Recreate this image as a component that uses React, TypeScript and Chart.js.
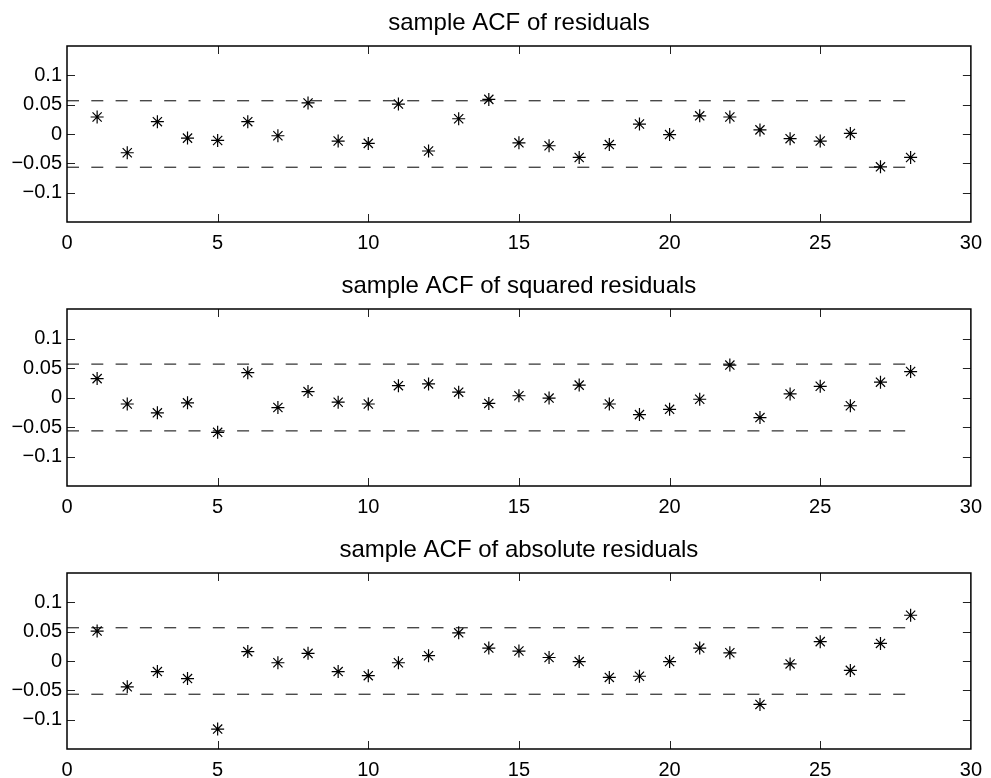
import React, { useEffect, useRef } from "react";
import { Chart, registerables } from "chart.js";

Chart.register(...registerables);

// ---------- data ----------
const lags = [1, 2, 3, 4, 5, 6, 7, 8, 9, 10, 11, 12, 13, 14, 15, 16, 17, 18, 19, 20, 21, 22, 23, 24, 25, 26, 27, 28];

const acfResiduals = [
  0.029, -0.032, 0.021, -0.007, -0.011, 0.021, -0.003, 0.053, -0.012, -0.016,
  0.051, -0.029, 0.026, 0.059, -0.015, -0.020, -0.040, -0.018, 0.017, -0.001,
  0.031, 0.029, 0.007, -0.008, -0.012, 0.001, -0.056, -0.040,
];

const acfSquared = [
  0.032, -0.011, -0.026, -0.009, -0.059, 0.042, -0.017, 0.010, -0.008, -0.011,
  0.020, 0.023, 0.009, -0.010, 0.003, -0.001, 0.021, -0.011, -0.029, -0.020,
  -0.003, 0.055, -0.034, 0.006, 0.019, -0.014, 0.026, 0.044,
];

const acfAbsolute = [
  0.051, -0.044, -0.018, -0.030, -0.116, 0.016, -0.003, 0.013, -0.018, -0.025,
  -0.003, 0.009, 0.048, 0.022, 0.017, 0.006, -0.001, -0.028, -0.026, -0.001,
  0.022, 0.014, -0.074, -0.005, 0.033, -0.016, 0.030, 0.078,
];

const confBound = 0.0566;
const boundLagStart = 0;
const boundLagEnd = 28;

const titles = [
  "sample ACF of residuals",
  "sample ACF of squared residuals",
  "sample ACF of absolute residuals",
];

const xTicks = [0, 5, 10, 15, 20, 25, 30];
const xTickLabels = ["0", "5", "10", "15", "20", "25", "30"];
const yTicks = [-0.1, -0.05, 0, 0.05, 0.1];
const yTickLabels = ["\u22120.1", "\u22120.05", "0", "0.05", "0.1"];
const xMin = 0;
const xMax = 30;
const yMin = -0.15;
const yMax = 0.15;

// ---------- rendering ----------
const FONT = '"Liberation Sans", Arial, Helvetica, sans-serif';

const framePlugin = {
  id: "matlabFrame",
  afterDraw(chart: any, _args: any, opts: any) {
    const { ctx, chartArea: a, scales } = chart;
    const tl = 8;
    ctx.save();
    ctx.strokeStyle = "#222";
    ctx.lineWidth = 1;
    ctx.beginPath();
    xTicks.forEach((v) => {
      if (v <= xMin || v >= xMax) return;
      const px = Math.round(scales.x.getPixelForValue(v)) + 0.5;
      ctx.moveTo(px, a.bottom);
      ctx.lineTo(px, a.bottom - tl);
      ctx.moveTo(px, a.top);
      ctx.lineTo(px, a.top + tl);
    });
    yTicks.forEach((v) => {
      const py = Math.round(scales.y.getPixelForValue(v)) + 0.5;
      ctx.moveTo(a.left, py);
      ctx.lineTo(a.left + tl, py);
      ctx.moveTo(a.right, py);
      ctx.lineTo(a.right - tl, py);
    });
    ctx.stroke();
    ctx.strokeStyle = "#000";
    ctx.lineWidth = 1.5;
    ctx.strokeRect(a.left, a.top, a.right - a.left, a.bottom - a.top);
    ctx.fillStyle = "#000";
    ctx.font = `24px ${FONT}`;
    ctx.textAlign = "center";
    ctx.textBaseline = "alphabetic";
    ctx.fillText(opts.text, (a.left + a.right) / 2, a.top - 16);
    ctx.restore();
  },
};

type PanelProps = {
  top: number;
  height: number;
  xAxisHeight: number;
  values: number[];
  title: string;
};

function AcfPanel({ top, height, xAxisHeight, values, title }: PanelProps) {
  const ref = useRef<HTMLCanvasElement>(null);
  useEffect(() => {
    if (!ref.current) return;
    const chart = new Chart(ref.current, {
      type: "scatter",
      data: {
        datasets: [
          {
            data: lags.map((x, i) => ({ x, y: values[i] })),
            showLine: false,
            pointStyle: "star",
            pointRadius: 6.5,
            pointHoverRadius: 6.5,
            borderColor: "#000",
            backgroundColor: "#000",
            borderWidth: 1.2,
          },
          {
            type: "line",
            data: [
              { x: boundLagStart, y: confBound },
              { x: boundLagEnd, y: confBound },
            ],
            showLine: true,
            borderColor: "#000",
            borderWidth: 1,
            borderDash: [12, 12.3],
            pointRadius: 0,
            fill: false,
          },
          {
            type: "line",
            data: [
              { x: boundLagStart, y: -confBound },
              { x: boundLagEnd, y: -confBound },
            ],
            showLine: true,
            borderColor: "#000",
            borderWidth: 1,
            borderDash: [12, 12.3],
            pointRadius: 0,
            fill: false,
          },
        ] as any,
      },
      options: {
        responsive: false,
        animation: false,
        devicePixelRatio: 1,
        layout: { padding: { left: 0, top: 46, right: 17, bottom: 0 } },
        plugins: {
          legend: { display: false },
          tooltip: { enabled: false },
          matlabFrame: { text: title },
        } as any,
        scales: {
          x: {
            type: "linear",
            min: xMin,
            max: xMax,
            grid: { display: false, drawTicks: false },
            border: { display: false },
            afterBuildTicks: (s: any) => {
              s.ticks = xTicks.map((v) => ({ value: v }));
            },
            afterFit: (s: any) => {
              s.height = xAxisHeight;
            },
            ticks: {
              padding: 9,
              color: "#000",
              font: { family: FONT, size: 20 },
              maxRotation: 0,
              callback: (v: any) => xTickLabels[xTicks.indexOf(Number(v))] ?? "",
            },
          },
          y: {
            type: "linear",
            min: yMin,
            max: yMax,
            grid: { display: false, drawTicks: false },
            border: { display: false },
            afterBuildTicks: (s: any) => {
              s.ticks = yTicks.map((v) => ({ value: v }));
            },
            afterFit: (s: any) => {
              s.width = 67;
            },
            ticks: {
              padding: 5,
              color: "#000",
              font: { family: FONT, size: 20 },
              callback: (v: any) => {
                const i = yTicks.findIndex((t) => Math.abs(t - Number(v)) < 1e-9);
                return i >= 0 ? yTickLabels[i] : "";
              },
            },
          },
        },
      } as any,
      plugins: [framePlugin as any],
    });
    return () => chart.destroy();
  }, [values, title, xAxisHeight]);

  return (
    <canvas
      ref={ref}
      width={991}
      height={height}
      style={{ position: "absolute", left: 0, top, width: 991, height }}
    />
  );
}

export default function App() {
  return (
    <div
      style={{
        position: "absolute",
        left: 0,
        top: 0,
        width: 991,
        height: 778,
        background: "#fff",
        overflow: "hidden",
      }}
    >
      <AcfPanel top={0} height={263} xAxisHeight={41} values={acfResiduals} title={titles[0]} />
      <AcfPanel top={263} height={264} xAxisHeight={41} values={acfSquared} title={titles[1]} />
      <AcfPanel top={527} height={251} xAxisHeight={29} values={acfAbsolute} title={titles[2]} />
    </div>
  );
}
